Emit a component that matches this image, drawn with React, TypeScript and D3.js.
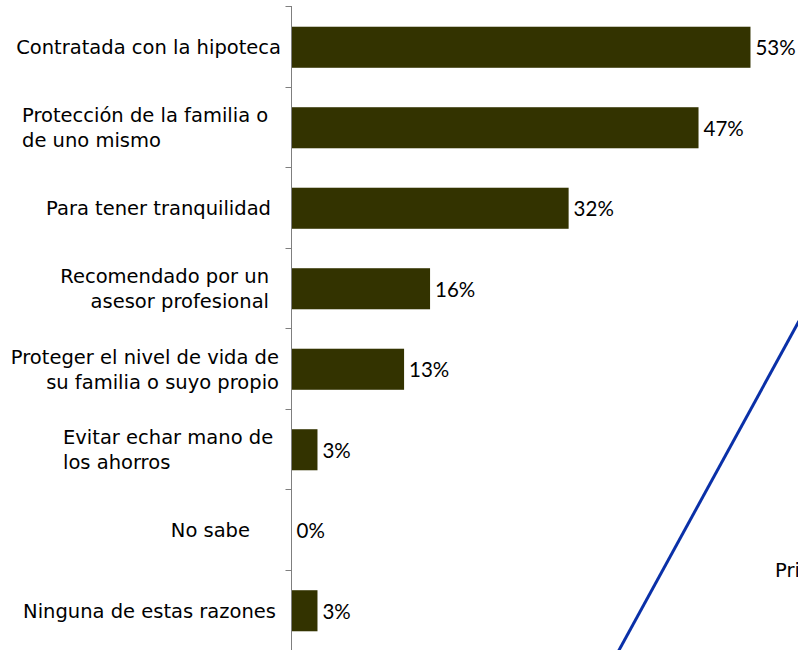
import React, { useEffect, useRef } from 'react';
import * as d3 from 'd3';

// razones para contratar el seguro (%)
const categories: string[][] = [
  ['Contratada con la hipoteca'],
  ['Protección de la familia o', 'de uno mismo'],
  ['Para tener tranquilidad'],
  ['Recomendado por un', 'asesor profesional'],
  ['Proteger el nivel de vida de', 'su familia o suyo propio'],
  ['Evitar echar mano de', 'los ahorros'],
  ['No sabe'],
  ['Ninguna de estas razones'],
];
const values: number[] = [53, 47, 32, 16, 13, 3, 0, 3];

// how each label block is aligned in the original slide
const labelAlign: { anchor: string; x: number }[] = [
  { anchor: 'end', x: 281 },
  { anchor: 'start', x: 22 },
  { anchor: 'end', x: 271 },
  { anchor: 'end', x: 269 },
  { anchor: 'end', x: 279 },
  { anchor: 'start', x: 63 },
  { anchor: 'end', x: 250 },
  { anchor: 'end', x: 276 },
];

const W = 798;
const H = 650;
const LABEL_FONT = '"DejaVu Sans", sans-serif';

function App() {
  const ref = useRef<SVGSVGElement>(null);

  useEffect(() => {
    const svg = d3.select(ref.current);
    svg.selectAll('*').remove();

    const axisX = 291.5;
    const y = d3.scaleBand<number>()
      .domain(d3.range(values.length))
      .range([7, 651])
      .paddingInner(0.49)
      .paddingOuter(0.245);
    const x = d3.scaleLinear().domain([0, 100]).range([axisX, axisX + 866]);

    const step = y.step();
    const bandTop = (i: number) => 7 + i * step;

    // bars
    svg.append('g')
      .selectAll('rect')
      .data(values)
      .enter()
      .append('rect')
      .attr('x', axisX)
      .attr('y', (d, i) => y(i)!)
      .attr('width', d => x(d) - axisX)
      .attr('height', y.bandwidth())
      .attr('fill', '#333300');

    // axis line + ticks
    const ax = svg.append('g').attr('stroke', '#7f7f7f').attr('stroke-width', 1);
    ax.append('line')
      .attr('x1', axisX).attr('x2', axisX)
      .attr('y1', 6).attr('y2', H);
    ax.selectAll('line.tick')
      .data(d3.range(values.length + 1))
      .enter()
      .append('line')
      .attr('class', 'tick')
      .attr('x1', axisX - 6).attr('x2', axisX)
      .attr('y1', i => Math.round(bandTop(i)) - 0.5)
      .attr('y2', i => Math.round(bandTop(i)) - 0.5);

    // value labels
    svg.append('g')
      .selectAll('text')
      .data(values)
      .enter()
      .append('text')
      .attr('x', d => x(d) + 5)
      .attr('y', (d, i) => y(i)! + y.bandwidth() / 2 + 8)
      .attr('font-family', 'Lato, sans-serif')
      .attr('font-size', 20.5)
      .attr('fill', '#000')
      .text(d => `${d}%`);

    // category labels
    const lh = 25;
    const cat = svg.append('g')
      .attr('font-family', LABEL_FONT)
      .attr('font-size', 19.5)
      .attr('fill', '#000');
    categories.forEach((lines, i) => {
      const cy = y(i)! + y.bandwidth() / 2;
      const t = cat.append('text')
        .attr('text-anchor', labelAlign[i].anchor);
      lines.forEach((ln, j) => {
        t.append('tspan')
          .attr('x', labelAlign[i].x)
          .attr('y', cy + 7 + (j - (lines.length - 1) / 2) * lh)
          .text(ln);
      });
    });

    // leftover from the slide: diagonal connector and cut-off caption
    svg.append('line')
      .attr('x1', 799).attr('y1', 321)
      .attr('x2', 618).attr('y2', 652)
      .attr('stroke', '#0a30a8')
      .attr('stroke-width', 3);
    svg.append('text')
      .attr('x', 775)
      .attr('y', 577)
      .attr('font-family', LABEL_FONT)
      .attr('font-size', 19.5)
      .text('Pri');
  }, []);

  return (
    <svg
      ref={ref}
      width={W}
      height={H}
      style={{ position: 'absolute', left: 0, top: 0, background: '#fff' }}
    />
  );
}

export default App;
